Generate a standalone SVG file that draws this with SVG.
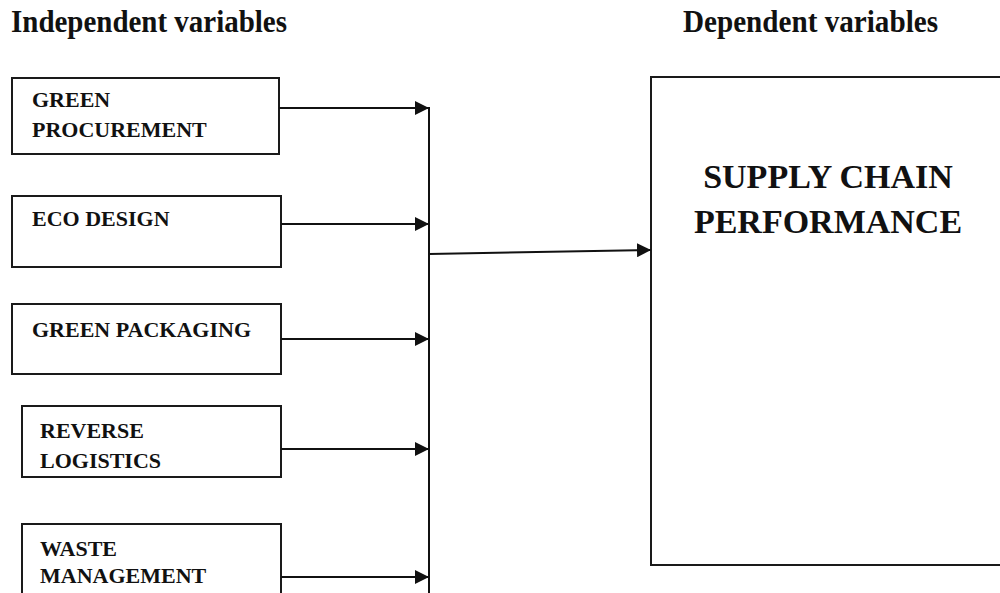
<svg xmlns="http://www.w3.org/2000/svg" width="1000" height="593" viewBox="0 0 1000 593">
<defs>
<style>
.box{fill:#fff;stroke:#1a1a1a;stroke-width:2}
.lbl{font-family:"Liberation Serif","Times New Roman",serif;font-weight:bold;font-size:22px;fill:#111}
.hdr{font-family:"Liberation Serif","Times New Roman",serif;font-weight:bold;font-size:31px;fill:#111}
.big{font-family:"Liberation Serif","Times New Roman",serif;font-weight:bold;font-size:34px;fill:#111;text-anchor:middle}
.ln{stroke:#111;stroke-width:2;fill:none}
</style>
<marker id="ah" markerWidth="14" markerHeight="14" viewBox="0 0 14 14" refX="14" refY="7" orient="auto" markerUnits="userSpaceOnUse">
<path d="M0,0 L14,7 L0,14 Z" fill="#111"/>
</marker>
</defs>
<rect width="1000" height="593" fill="#fff"/>
<g id="headers">
<text class="hdr" x="11" y="32" textLength="276" lengthAdjust="spacingAndGlyphs">Independent variables</text>
<text class="hdr" x="683" y="32" textLength="255" lengthAdjust="spacingAndGlyphs">Dependent variables</text>
</g>
<g id="green-procurement">
<rect class="box" x="12" y="78" width="267" height="76"/>
<text class="lbl" x="32" y="107">GREEN</text>
<text class="lbl" x="32" y="137">PROCUREMENT</text>
</g>
<g id="eco-design">
<rect class="box" x="12" y="196" width="269" height="71"/>
<text class="lbl" x="32" y="226">ECO DESIGN</text>
</g>
<g id="green-packaging">
<rect class="box" x="12" y="304" width="269" height="70"/>
<text class="lbl" x="32" y="337">GREEN PACKAGING</text>
</g>
<g id="reverse-logistics">
<rect class="box" x="22" y="406" width="259" height="71"/>
<text class="lbl" x="40" y="438">REVERSE</text>
<text class="lbl" x="40" y="468">LOGISTICS</text>
</g>
<g id="waste-management">
<rect class="box" x="22" y="524" width="259" height="80"/>
<text class="lbl" x="40" y="556">WASTE</text>
<text class="lbl" x="40" y="583">MANAGEMENT</text>
</g>
<g id="supply-chain-performance">
<rect class="box" x="651" y="77" width="360" height="488"/>
<text class="big" x="828" y="188">SUPPLY CHAIN</text>
<text class="big" x="828" y="233">PERFORMANCE</text>
</g>
<g id="connectors">
<line class="ln" x1="279" y1="108" x2="429" y2="108" marker-end="url(#ah)"/>
<line class="ln" x1="281" y1="224" x2="429" y2="224" marker-end="url(#ah)"/>
<line class="ln" x1="281" y1="339" x2="429" y2="339" marker-end="url(#ah)"/>
<line class="ln" x1="281" y1="449" x2="429" y2="449" marker-end="url(#ah)"/>
<line class="ln" x1="281" y1="577" x2="429" y2="577" marker-end="url(#ah)"/>
<line class="ln" x1="429" y1="107" x2="429" y2="593"/>
<line class="ln" x1="429" y1="254" x2="651" y2="250" marker-end="url(#ah)"/>
</g>
</svg>
